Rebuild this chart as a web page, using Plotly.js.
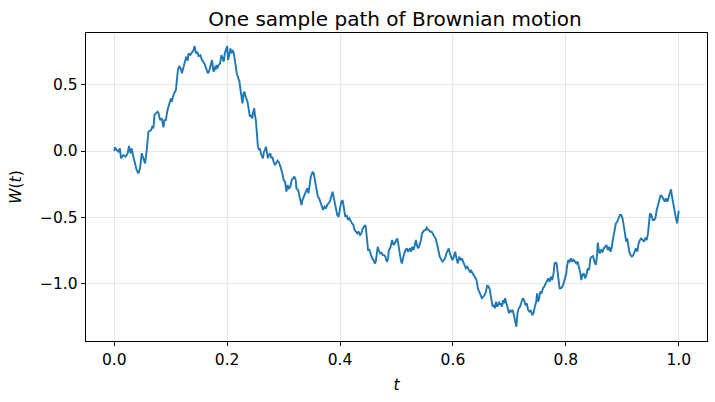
<!DOCTYPE html>
<html>
<head>
<meta charset="utf-8">
<script src="https://cdn.plot.ly/plotly-3.0.1.min.js"></script>
<style>html,body{margin:0;padding:0;background:#fff;}#chart{width:715px;height:402px;}</style>
</head>
<body>
<div id="chart"></div>
<script>
// Sample path, in pieces along t
const tSeg1 = [0, 0.0012, 0.0042, 0.0072, 0.0101, 0.0119, 0.016, 0.0202, 0.0238, 0.0262, 0.0291, 0.0309, 0.0339, 0.0368, 0.0398, 0.0428, 0.0457, 0.0487, 0.0517, 0.0546, 0.0576, 0.0594, 0.0606, 0.0653, 0.0677, 0.0694, 0.0712, 0.0736, 0.0766, 0.0783, 0.0813, 0.0843, 0.0872, 0.089, 0.0914, 0.0944, 0.0973, 0.1003, 0.1021, 0.1039, 0.1068, 0.1092, 0.111, 0.1128, 0.1151, 0.1175, 0.1199, 0.1217, 0.124, 0.1258, 0.1276, 0.13, 0.1317, 0.1347, 0.1377, 0.1406, 0.1424, 0.1448, 0.1471, 0.1495, 0.1525, 0.1555, 0.1596];
const wSeg1 = [0, 0.028, 0.008, -0.005, 0.020, -0.055, -0.030, -0.043, -0.018, 0.038, -0.018, 0.020, -0.043, -0.093, -0.144, -0.169, -0.131, -0.018, -0.055, -0.093, 0.008, 0.108, 0.146, 0.159, 0.189, 0.172, 0.272, 0.285, 0.297, 0.290, 0.234, 0.247, 0.179, 0.234, 0.234, 0.310, 0.348, 0.398, 0.373, 0.411, 0.441, 0.461, 0.537, 0.613, 0.643, 0.625, 0.588, 0.613, 0.658, 0.688, 0.714, 0.683, 0.739, 0.726, 0.751, 0.764, 0.794, 0.739, 0.751, 0.719, 0.726, 0.688, 0.663];

const tSeg2 = [0.1644, 0.1661, 0.1685, 0.1703, 0.1721, 0.1733, 0.175, 0.1762, 0.178, 0.1792, 0.181, 0.1827, 0.1851, 0.1875, 0.1898, 0.1922, 0.194, 0.1958, 0.1982, 0.2, 0.2017, 0.2041, 0.2059, 0.2077, 0.21, 0.2118, 0.2136, 0.2154, 0.2171, 0.2195, 0.2219, 0.2237, 0.2254, 0.2272, 0.229, 0.2308, 0.2326, 0.2343, 0.2361, 0.2385, 0.2403, 0.2427, 0.2444, 0.2462, 0.248, 0.2492, 0.2509, 0.2527, 0.2545, 0.2563, 0.2581, 0.2598, 0.2616, 0.2634, 0.2652, 0.267, 0.2688, 0.2705, 0.2723, 0.2741, 0.2765, 0.2783, 0.2801, 0.2824, 0.2848, 0.2871, 0.2895, 0.2919, 0.2937, 0.2954, 0.2978, 0.3002, 0.3025, 0.3049, 0.3073, 0.3096, 0.312, 0.3144, 0.3168, 0.3191, 0.3215];
const wSeg2 = [0.600, 0.587, 0.613, 0.638, 0.676, 0.688, 0.625, 0.600, 0.638, 0.613, 0.651, 0.625, 0.651, 0.663, 0.726, 0.701, 0.676, 0.739, 0.777, 0.794, 0.688, 0.751, 0.777, 0.739, 0.764, 0.739, 0.701, 0.638, 0.587, 0.562, 0.524, 0.461, 0.398, 0.361, 0.436, 0.449, 0.411, 0.398, 0.373, 0.310, 0.260, 0.272, 0.247, 0.297, 0.323, 0.272, 0.234, 0.134, 0.033, 0.008, 0.020, -0.018, -0.043, -0.055, -0.005, 0.008, 0.033, -0.030, -0.055, -0.030, -0.018, -0.055, -0.043, -0.081, -0.106, -0.088, -0.073, -0.088, -0.106, -0.131, -0.169, -0.219, -0.232, -0.307, -0.257, -0.282, -0.270, -0.219, -0.207, -0.194, -0.219];

const tSeg3 = [0.3227, 0.3257, 0.3275, 0.3298, 0.3316, 0.3334, 0.3364, 0.3393, 0.3417, 0.3441, 0.3464, 0.3482, 0.3512, 0.3535, 0.3559, 0.3583, 0.3607, 0.363, 0.3654, 0.3678, 0.3701, 0.3725, 0.3749, 0.3773, 0.3797, 0.382, 0.3844, 0.3868, 0.3891, 0.3903, 0.3927, 0.3951, 0.3974, 0.3998, 0.4022, 0.4046, 0.4069, 0.4093, 0.4117, 0.4141, 0.4164, 0.4188, 0.4212, 0.4236, 0.4259, 0.4283, 0.4307, 0.4331, 0.4354, 0.4378, 0.4402, 0.4425, 0.4449, 0.4461, 0.4479, 0.4497, 0.452, 0.4544, 0.4568, 0.4592, 0.4615, 0.4633, 0.4651, 0.4668, 0.4686, 0.471, 0.4734, 0.4757, 0.4781, 0.4805];
const wSeg3 = [-0.282, -0.295, -0.333, -0.358, -0.408, -0.371, -0.333, -0.295, -0.282, -0.320, -0.232, -0.194, -0.161, -0.169, -0.232, -0.295, -0.345, -0.358, -0.383, -0.421, -0.446, -0.421, -0.434, -0.408, -0.396, -0.383, -0.345, -0.308, -0.358, -0.383, -0.446, -0.484, -0.497, -0.446, -0.383, -0.371, -0.421, -0.497, -0.484, -0.522, -0.509, -0.535, -0.547, -0.560, -0.598, -0.610, -0.623, -0.610, -0.635, -0.623, -0.585, -0.572, -0.560, -0.598, -0.661, -0.749, -0.749, -0.787, -0.812, -0.825, -0.850, -0.837, -0.774, -0.724, -0.749, -0.774, -0.769, -0.787, -0.787, -0.799];

const tSeg4 = [0.4817, 0.4834, 0.4852, 0.4864, 0.4888, 0.4906, 0.4923, 0.4947, 0.4971, 0.4995, 0.5012, 0.503, 0.5054, 0.5077, 0.5095, 0.5113, 0.5137, 0.516, 0.5184, 0.5202, 0.522, 0.5238, 0.5255, 0.5279, 0.5303, 0.5327, 0.5344, 0.5362, 0.538, 0.5398, 0.5416, 0.5434, 0.5451, 0.5469, 0.5493, 0.5517, 0.5534, 0.5558, 0.5576, 0.56, 0.5624, 0.5647, 0.5671, 0.5694, 0.5718, 0.5742, 0.5765, 0.5789, 0.5813, 0.5837, 0.586, 0.5884, 0.5908, 0.5926, 0.5944, 0.5967, 0.5991, 0.6015, 0.6039, 0.6062, 0.6086, 0.611, 0.6134, 0.6157, 0.6181, 0.6205, 0.6229, 0.6252, 0.6276, 0.63, 0.6323, 0.6347, 0.6371, 0.6395, 0.6418];
const wSeg4 = [-0.825, -0.837, -0.812, -0.749, -0.736, -0.698, -0.673, -0.711, -0.698, -0.673, -0.661, -0.698, -0.774, -0.825, -0.850, -0.812, -0.774, -0.749, -0.736, -0.761, -0.749, -0.736, -0.761, -0.724, -0.749, -0.711, -0.673, -0.711, -0.736, -0.724, -0.698, -0.673, -0.623, -0.610, -0.598, -0.598, -0.580, -0.593, -0.603, -0.610, -0.610, -0.635, -0.648, -0.661, -0.698, -0.749, -0.799, -0.825, -0.837, -0.825, -0.812, -0.774, -0.749, -0.736, -0.774, -0.799, -0.825, -0.799, -0.761, -0.812, -0.850, -0.799, -0.825, -0.812, -0.837, -0.875, -0.887, -0.875, -0.900, -0.912, -0.905, -0.925, -0.938, -0.963, -0.976];

const tSeg5 = [0.6442, 0.6466, 0.6489, 0.6513, 0.6537, 0.6561, 0.6584, 0.6608, 0.6632, 0.6655, 0.6667, 0.6685, 0.6703, 0.6727, 0.6744, 0.6762, 0.678, 0.6798, 0.6816, 0.6833, 0.6851, 0.6869, 0.6887, 0.6904, 0.6922, 0.694, 0.6958, 0.6976, 0.6993, 0.7011, 0.7035, 0.7059, 0.7082, 0.7106, 0.7124, 0.7142, 0.7165, 0.7189, 0.7213, 0.7237, 0.726, 0.7284, 0.7308, 0.7331, 0.7355, 0.7379, 0.7403, 0.7426, 0.745, 0.7474, 0.7491, 0.7509, 0.7527, 0.7545, 0.7569, 0.7593, 0.7616, 0.764, 0.7664, 0.7687, 0.7711, 0.7735, 0.7759, 0.7782, 0.78, 0.7818, 0.7836, 0.7854, 0.7871, 0.7889, 0.7913, 0.7937, 0.796, 0.7984, 0.8008];
const wSeg5 = [-1.039, -1.064, -1.089, -1.114, -1.102, -1.089, -1.064, -1.014, -1.026, -1.051, -1.089, -1.140, -1.177, -1.165, -1.190, -1.140, -1.177, -1.165, -1.140, -1.165, -1.152, -1.177, -1.127, -1.152, -1.114, -1.140, -1.165, -1.190, -1.228, -1.203, -1.215, -1.203, -1.241, -1.278, -1.329, -1.228, -1.190, -1.177, -1.140, -1.114, -1.127, -1.165, -1.152, -1.203, -1.215, -1.203, -1.241, -1.228, -1.177, -1.140, -1.077, -1.140, -1.114, -1.064, -1.077, -1.039, -1.026, -1.001, -0.976, -0.963, -0.989, -0.950, -0.976, -0.925, -0.850, -0.845, -0.850, -0.925, -1.001, -1.039, -1.039, -1.026, -1.001, -0.963, -0.925];

const tSeg6 = [0.8019, 0.8043, 0.8067, 0.8091, 0.8114, 0.8138, 0.8162, 0.8186, 0.8209, 0.8233, 0.8257, 0.8274, 0.8292, 0.8316, 0.834, 0.8363, 0.8387, 0.8411, 0.8435, 0.8458, 0.8482, 0.8506, 0.853, 0.8553, 0.8565, 0.8583, 0.8601, 0.8625, 0.8648, 0.8672, 0.8696, 0.872, 0.8743, 0.8767, 0.8791, 0.8814, 0.8832, 0.885, 0.8868, 0.8886, 0.8909, 0.8933, 0.8957, 0.898, 0.9004, 0.9028, 0.9052, 0.9069, 0.9087, 0.9105, 0.9123, 0.9146, 0.917, 0.9194, 0.9218, 0.9241, 0.9265, 0.9289, 0.9312, 0.9336, 0.936, 0.9384, 0.9407, 0.9431, 0.9455, 0.9473, 0.949, 0.9514, 0.9538, 0.9562, 0.9585, 0.9609, 0.9633, 0.9657, 0.968, 0.9704, 0.9728, 0.9752, 0.9775, 0.9799, 0.9823, 0.9847, 0.9864, 0.9876, 0.989, 0.991, 0.993, 0.995, 0.997, 0.9985, 1.0];
const wSeg6 = [-0.875, -0.824, -0.837, -0.812, -0.837, -0.824, -0.837, -0.850, -0.837, -0.875, -0.925, -0.976, -0.938, -0.925, -0.963, -0.938, -0.888, -0.900, -0.812, -0.799, -0.794, -0.837, -0.862, -0.787, -0.693, -0.749, -0.774, -0.749, -0.761, -0.736, -0.724, -0.711, -0.749, -0.724, -0.761, -0.724, -0.673, -0.623, -0.598, -0.547, -0.535, -0.502, -0.484, -0.484, -0.509, -0.572, -0.623, -0.686, -0.661, -0.711, -0.761, -0.787, -0.799, -0.787, -0.761, -0.736, -0.761, -0.698, -0.673, -0.661, -0.673, -0.686, -0.661, -0.673, -0.623, -0.547, -0.471, -0.484, -0.522, -0.522, -0.509, -0.446, -0.408, -0.371, -0.333, -0.345, -0.371, -0.383, -0.358, -0.383, -0.345, -0.307, -0.290, -0.333, -0.371, -0.396, -0.459, -0.509, -0.547, -0.497, -0.451];

const xTickVals = [0, 0.2, 0.4, 0.6, 0.8, 1.0];
const xTickText = ["0.0", "0.2", "0.4", "0.6", "0.8", "1.0"];
const yTickVals = [-1.0, -0.5, 0.0, 0.5];
const yTickText = ["\u22121.0", "\u22120.5", "0.0", "0.5"];

const tAll = [].concat(tSeg1, tSeg2, tSeg3, tSeg4, tSeg5, tSeg6);
const wAll = [].concat(wSeg1, wSeg2, wSeg3, wSeg4, wSeg5, wSeg6);

const FONT = "DejaVu Sans, Liberation Sans, sans-serif";

const trace = {
  x: tAll, y: wAll, type: "scatter", mode: "lines",
  line: {color: "#1f77b4", width: 1.9},
  hoverinfo: "skip", showlegend: false
};

const axisCommon = {
  showline: true, linecolor: "#000", linewidth: 1, mirror: true,
  ticks: "outside", ticklen: 4.3, tickwidth: 1, tickcolor: "#000",
  showgrid: true, gridcolor: "#e6e6e6", gridwidth: 1,
  zeroline: false, tickmode: "array",
  tickfont: {family: FONT, size: 15.5, color: "#000"}
};

const layout = {
  width: 715, height: 402,
  margin: {l: 86, r: 8, t: 33, b: 61, pad: 0},
  paper_bgcolor: "#fff", plot_bgcolor: "#fff",
  font: {family: FONT, color: "#000"},
  title: {text: "One sample path of Brownian motion", font: {family: FONT, size: 20, color: "#000"},
          x: 395/715, xanchor: "center", xref: "container", y: 1 - 18.5/402, yref: "container", yanchor: "middle"},
  xaxis: Object.assign({}, axisCommon, {
    range: [-0.05, 1.05], tickvals: xTickVals, ticktext: xTickText,
    title: {text: "<i>t</i>", font: {family: FONT, size: 15.5, color: "#000"}, standoff: 11}
  }),
  yaxis: Object.assign({}, axisCommon, {
    range: [-1.437, 0.893], tickvals: yTickVals, ticktext: yTickText,
    title: {text: "<i>W</i>(<i>t</i>)", font: {family: FONT, size: 15.5, color: "#000"}, standoff: 14}
  })
};

Plotly.newPlot("chart", [trace], layout, {staticPlot: true, displayModeBar: false});
</script>
</body>
</html>
